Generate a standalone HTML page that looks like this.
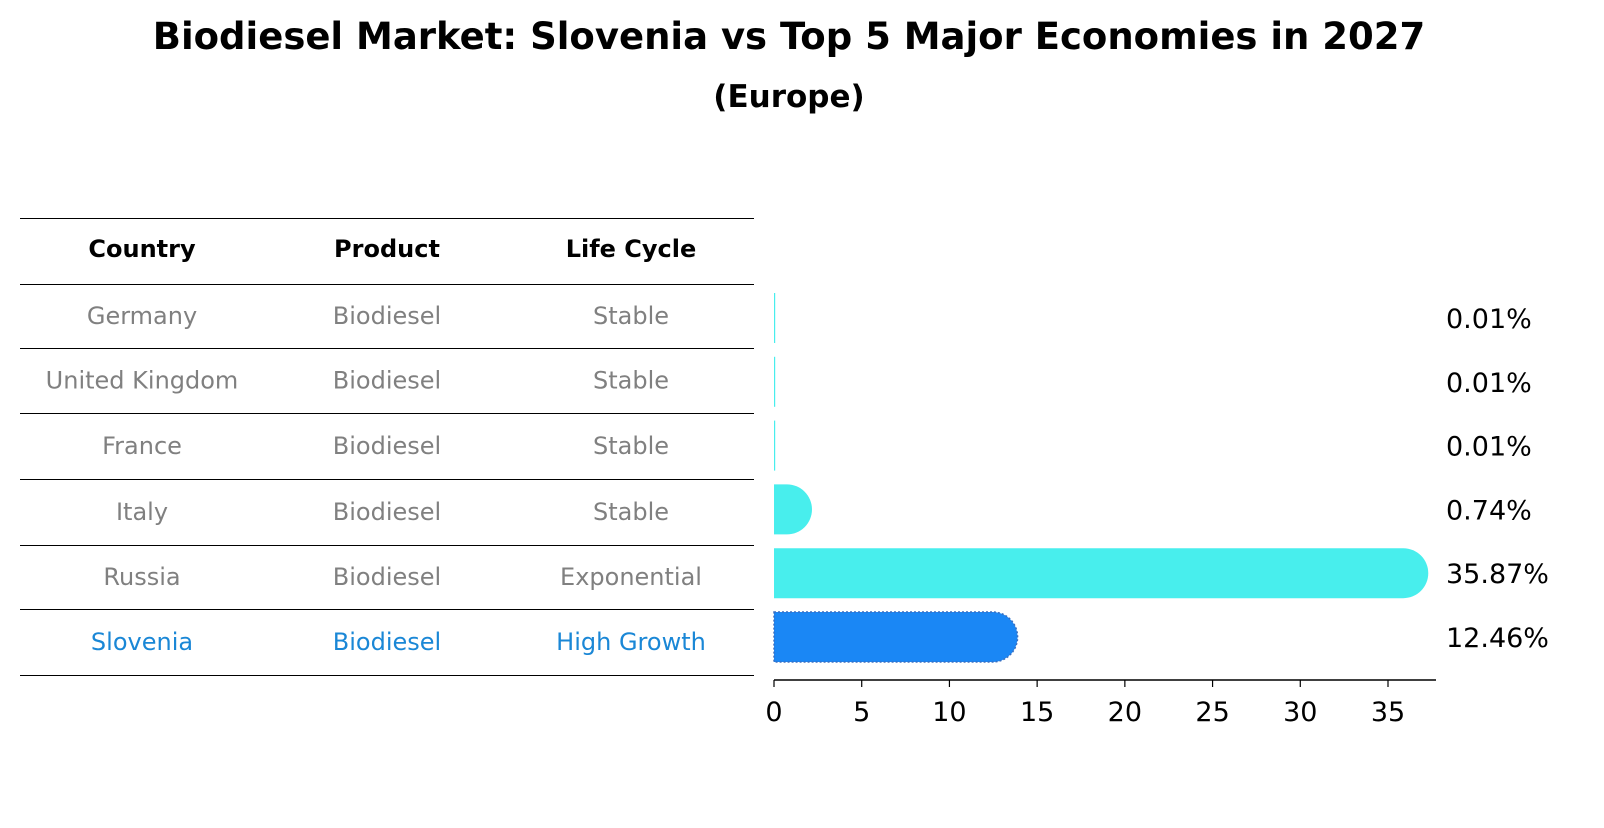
<!DOCTYPE html>
<html><head><meta charset="utf-8"><style>
body{margin:0;background:#fff;font-family:"Liberation Sans","DejaVu Sans",sans-serif;}
</style></head><body>
<svg width="1604" height="823" xmlns="http://www.w3.org/2000/svg" font-family="DejaVu Sans, Liberation Sans, sans-serif">
<text x="789" y="49" text-anchor="middle" font-size="37" font-weight="bold">Biodiesel Market: Slovenia vs Top 5 Major Economies in 2027</text>
<text x="789" y="107" text-anchor="middle" font-size="31" font-weight="bold">(Europe)</text>
<g id="table"></g>
<g id="bars"></g>
<g id="axis"></g>
</svg>
<script>
const countries=["Germany","United Kingdom","France","Italy","Russia","Slovenia"];
const products=["Biodiesel","Biodiesel","Biodiesel","Biodiesel","Biodiesel","Biodiesel"];
const lifecycles=["Stable","Stable","Stable","Stable","Exponential","High Growth"];
const values=[0.01,0.01,0.01,0.74,35.87,12.46];
const ticks=[0,5,10,15,20,25,30,35];
const NS="http://www.w3.org/2000/svg";
function mk(t,a,p){const e=document.createElementNS(NS,t);for(const k in a)e.setAttribute(k,a[k]);p.appendChild(e);return e;}
const x0=774,k=(1388-774)/35;
function xs(v){return x0+v*k;}
function yc(i){return 318+i*63.8;}
const tb=document.getElementById('table');
const lines=[218,284,348,413,479,545,609,675];
lines.forEach(y=>{const l=mk('line',{x1:20,x2:754,y1:y+0.5,y2:y+0.5,stroke:'#000','stroke-width':1},tb);

});
const cx=[142,387,631];
["Country","Product","Life Cycle"].forEach((h,j)=>{const t=mk('text',{x:cx[j],y:257,'text-anchor':'middle','font-size':24,'font-weight':'bold'},tb);t.textContent=h;

});
countries.forEach((c,i)=>{const y=(lines[i+1]+lines[i+2])/2+8;const col=i==5?'#1a87d6':'#808080';
[c,products[i],lifecycles[i]].forEach((s,j)=>{const t=mk('text',{x:cx[j],y:y,'text-anchor':'middle','font-size':24,fill:col},tb);t.textContent=s;

});});
const bg=document.getElementById('bars');const h=50,r=25;
values.forEach((v,i)=>{const y=yc(i)-h/2;const xe=xs(v);const col=i==5?'#1a87f5':'#48eeed';
let p;
if(v<0.1){p=mk('rect',{x:x0,y:y,width:1.2,height:h,fill:col},bg);}
else{p=mk('path',{d:`M${x0},${y} H${xe} A${r},${r} 0 0 1 ${xe},${y+h} H${x0} Z`,fill:col},bg);
if(i==5){p.setAttribute('stroke','#3a6fc0');p.setAttribute('stroke-dasharray','2,2');p.setAttribute('stroke-width','1.5');}}


const t=mk('text',{x:1446,y:yc(i)+10,'font-size':27},bg);t.textContent=v.toFixed(2)+'%';

});
const ax=document.getElementById('axis');
mk('line',{x1:x0,x2:1436,y1:680,y2:680,stroke:'#000','stroke-width':1.5},ax);
ticks.forEach(v=>{mk('line',{x1:xs(v),x2:xs(v),y1:680,y2:687,stroke:'#000','stroke-width':1.2},ax);
const t=mk('text',{x:xs(v),y:721,'text-anchor':'middle','font-size':27},ax);t.textContent=v;

});
</script>
</body></html>
